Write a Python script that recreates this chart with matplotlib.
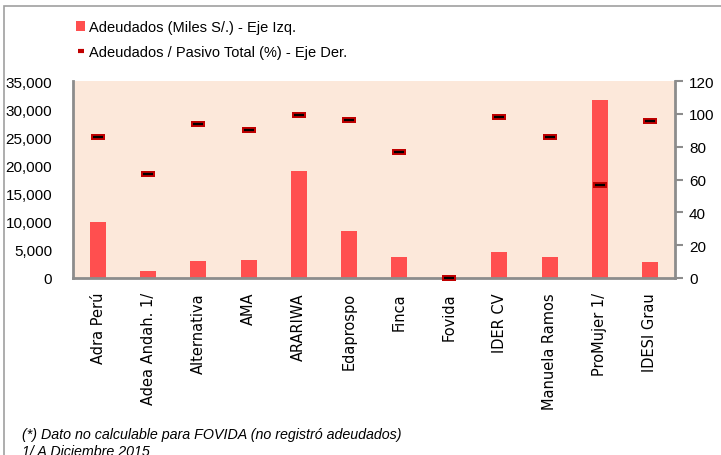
import numpy as np
import matplotlib.pyplot as plt
from matplotlib.patches import Patch, Rectangle
from matplotlib.lines import Line2D

# data
entidades = ['Adra Perú', 'Adea Andah. 1/', 'Alternativa', 'AMA', 'ARARIWA', 'Edaprospo',
             'Finca', 'Fovida', 'IDER CV', 'Manuela Ramos', 'ProMujer 1/', 'IDESI Grau']
adeudados = [9870, 1190, 3100, 3280, 19000, 8270, 3690, 0, 4700, 3810, 31670, 2920]
ratio_pasivo = [85.8, 63.2, 94.1, 90.1, 99.2, 96.4, 76.8, 0, 97.8, 85.8, 56.6, 95.7]

main_font = ['Liberation Sans', 'DejaVu Sans']
bar_col = '#FF4F4F'
mark_col = '#C00000'
grey = '#8C8C8C'

fig = plt.figure(figsize=(7.21, 4.56), dpi=100)
ax = fig.add_axes([73/721, 1-279/456, 602/721, 197/456])
ax.set_facecolor('#FCE8DA')

x = np.arange(len(entidades))
ax.bar(x, adeudados, width=0.32, color=bar_col, zorder=2)
ax.set_xlim(-0.5, len(entidades)-0.5)
ax.set_ylim(0, 35000)
ax.set_yticks(np.arange(0, 35001, 5000))
ax.set_yticklabels(['{:,}'.format(v) for v in range(0, 35001, 5000)], fontsize=11, family=main_font)
ax.tick_params(axis='y', length=0, pad=15)
ax.set_xticks(x)
ax.set_xticklabels(entidades, rotation=90, fontsize=10.5, family='DejaVu Sans')
ax.tick_params(axis='x', length=0, pad=10)
for s in ['top', 'right']:
    ax.spines[s].set_visible(False)
for s in ['left', 'bottom']:
    ax.spines[s].set_color(grey)
    ax.spines[s].set_linewidth(2)

ax2 = ax.twinx()
ax2.set_ylim(0, 120)
ax2.set_yticks(np.arange(0, 121, 20))
ax2.set_yticklabels([str(v) for v in range(0, 121, 20)], fontsize=11, family=main_font)
ax2.tick_params(axis='y', length=6, width=1.5, color=grey, pad=4)
for s in ['top', 'left', 'bottom']:
    ax2.spines[s].set_visible(False)
ax2.spines['right'].set_color(grey)
ax2.spines['right'].set_linewidth(2)

box = [(-1, -0.5), (1, -0.5), (1, 0.5), (-1, 0.5)]
ax2.plot(x, ratio_pasivo, linestyle='none', marker=box, markersize=10,
         color=mark_col, markeredgewidth=0, clip_on=False, zorder=3)
ax2.plot(x, ratio_pasivo, linestyle='none', marker='_', markersize=7,
         color='black', markeredgewidth=1.6, clip_on=False, zorder=4)

handles = [Patch(facecolor=bar_col, edgecolor='none'),
           Line2D([], [], linestyle='none', marker='_', color=mark_col, markersize=4, markeredgewidth=3)]
fig.legend(handles, ['Adeudados (Miles S/.) - Eje Izq.', 'Adeudados / Pasivo Total (%) - Eje Der.'],
           loc='upper left', bbox_to_anchor=(63/721, 1-8/456), frameon=False,
           prop={'family': main_font, 'size': 10.5}, handlelength=0.6, handleheight=0.6,
           handletextpad=0.3, labelspacing=0.75)

fig.text(22/721, 1-435/456, '(*) Dato no calculable para FOVIDA (no registró adeudados)',
         fontsize=10.3, style='italic', family=main_font, va='center')
fig.text(22/721, 1-452/456, '1/ A Diciembre 2015',
         fontsize=10.3, style='italic', family=main_font, va='center')

fig.patches.append(Rectangle((4/721, -0.1), 1.2, 1-7/456+0.1, transform=fig.transFigure,
                             fill=False, edgecolor='#A0A0A0', linewidth=1.2))

fig.savefig('out.png', dpi=100)
